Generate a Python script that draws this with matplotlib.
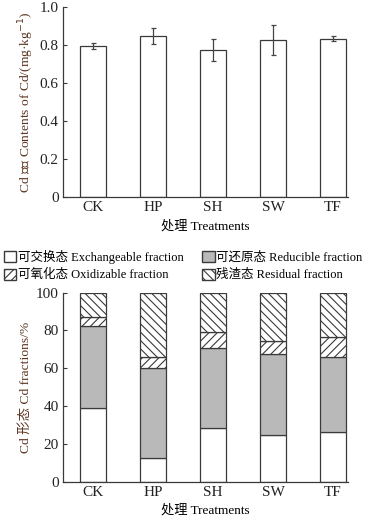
import matplotlib
matplotlib.use('Agg')
import matplotlib.pyplot as plt
from matplotlib.patches import Patch

plt.rcParams['font.family'] = ['Liberation Serif', 'Noto Sans CJK SC']
plt.rcParams['font.size'] = 9
plt.rcParams['hatch.linewidth'] = 0.8

# data
treatments = ['CK', 'HP', 'SH', 'SW', 'TF']
cd_content = [0.795, 0.847, 0.775, 0.826, 0.833]
cd_err = [0.015, 0.040, 0.058, 0.080, 0.013]

exchangeable = [39.0, 12.5, 28.2, 24.5, 26.1]
reducible = [43.4, 47.5, 42.3, 43.0, 40.0]
oxidizable = [4.5, 6.1, 8.5, 7.1, 10.6]
residual = [13.1, 33.9, 21.0, 25.4, 23.3]

legend_labels = ['可交换态 Exchangeable fraction', '可还原态 Reducible fraction',
                 '可氧化态 Oxidizable fraction', '残渣态 Residual fraction']

edge = '#3a3a3a'
label_col = '#5a3320'
width = 0.42
x = range(len(treatments))

fig = plt.figure(figsize=(3.75, 5.22), dpi=100)


def style_axis(ax):
    for side in ['top', 'right']:
        ax.spines[side].set_visible(False)
    for side in ['left', 'bottom']:
        ax.spines[side].set_color(edge)
        ax.spines[side].set_linewidth(0.9)
    ax.tick_params(axis='y', direction='in', length=3, width=0.8, colors=edge,
                   labelcolor='#222222', pad=3, labelsize=11)
    ax.tick_params(axis='x', length=0, pad=3, labelcolor='#222222', labelsize=11)
    ax.set_xlim(-0.5, 4.25)
    ax.set_xticks(list(x))
    ax.set_xticklabels(treatments)
    ax.set_xlabel('处理 Treatments', labelpad=4, fontsize=9.5)


# top panel: total Cd
ax1 = fig.add_axes([0.168, 0.6226, 0.76, 0.364])
ax1.bar(x, cd_content, width, yerr=cd_err, color='white', edgecolor=edge,
        linewidth=0.9, capsize=1.8,
        error_kw=dict(ecolor='#444444', elinewidth=0.9, capthick=0.9))
ax1.set_ylim(0, 1.0)
ax1.set_yticks([0, 0.2, 0.4, 0.6, 0.8, 1.0])
ax1.set_yticklabels(['0', '0.2', '0.4', '0.6', '0.8', '1.0'])
ax1.set_ylabel('Cd 含量 Contents of Cd/(mg·kg$^{-1}$)', color=label_col,
               labelpad=3, fontsize=9.7)
style_axis(ax1)

# bottom panel: fractions
ax2 = fig.add_axes([0.168, 0.0772, 0.76, 0.3621])
bottom = [0.0] * len(treatments)
styles = [('white', None), ('#b9b9b9', None), ('white', '////'), ('white', '\\\\\\\\')]
handles = []
for vals, (fc, hatch), lab in zip([exchangeable, reducible, oxidizable, residual],
                                  styles, legend_labels):
    ax2.bar(x, vals, width, bottom=bottom, color=fc, edgecolor=edge,
            linewidth=0.9, hatch=hatch)
    bottom = [b + v for b, v in zip(bottom, vals)]
    handles.append(Patch(facecolor=fc, edgecolor=edge, hatch=hatch, label=lab))
ax2.set_ylim(0, 100)
ax2.set_yticks([0, 20, 40, 60, 80, 100])
ax2.set_ylabel('Cd 形态 Cd fractions/%', color=label_col, labelpad=3, fontsize=9.7)
style_axis(ax2)

order = [0, 2, 1, 3]
fig.legend([handles[i] for i in order], [legend_labels[i] for i in order],
           loc='upper left', bbox_to_anchor=(0.0, 0.528), ncol=2, frameon=False,
           handlelength=1.0, handleheight=1.0, handletextpad=0.15,
           columnspacing=1.45, labelspacing=0.35, borderaxespad=0, borderpad=0.3,
           fontsize=9)

fig.savefig('out.png', dpi=100)
